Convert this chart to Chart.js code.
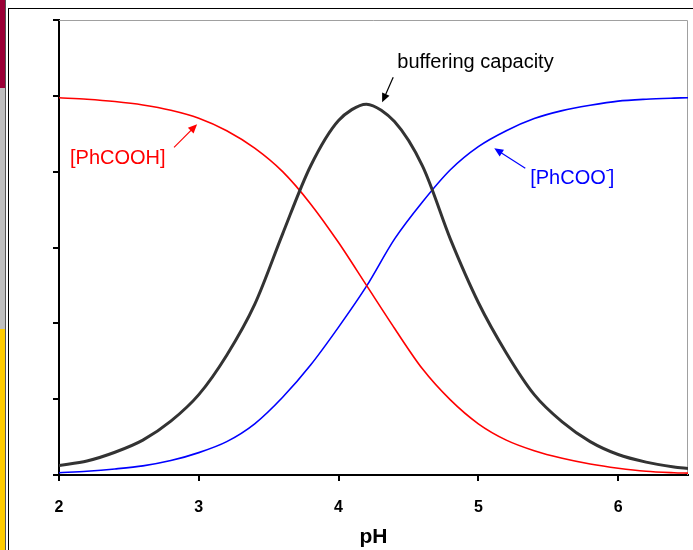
<!DOCTYPE html>
<html>
<head>
<meta charset="utf-8">
<title>Benzoic acid buffer</title>
<script src="https://cdn.jsdelivr.net/npm/chart.js@4.4.1/dist/chart.umd.min.js"></script>
<style>
  html, body { margin: 0; padding: 0; background: #fff; }
  #wrap { position: relative; width: 693px; height: 550px; overflow: hidden; }
  #wrap canvas { position: absolute; left: 0; top: 0; }
  .strip { position: absolute; left: 0; width: 5px; }
  .rule { position: absolute; }
</style>
</head>
<body>
<div id="wrap">
  <div class="strip" style="top:0;height:88px;background:#9b0036"></div>
  <div class="strip" style="top:88px;height:241px;background:#c0c0c0"></div>
  <div class="strip" style="top:329px;height:221px;background:#ffcc00"></div>
  <div class="rule" style="left:5px;top:0;width:1px;height:550px;background:#555"></div>
  <div class="rule" style="left:8px;top:8px;width:1px;height:542px;background:#000"></div>
  <div class="rule" style="left:8px;top:8px;width:685px;height:1px;background:#000"></div>
  <canvas id="chart" width="693" height="550"></canvas>
</div>
<script>
// pH grid and the three curves
const phValues = [2.0, 2.2, 2.4, 2.6, 2.8, 3.0, 3.2, 3.4, 3.6, 3.8, 4.0, 4.2,
                  4.4, 4.6, 4.8, 5.0, 5.2, 5.4, 5.6, 5.8, 6.0, 6.2, 6.4, 6.5];
const acidValues = [0.995, 0.991, 0.985, 0.976, 0.962, 0.941, 0.908, 0.862, 0.800, 0.715, 0.613, 0.500,
                    0.387, 0.280, 0.198, 0.135, 0.092, 0.064, 0.044, 0.029, 0.018, 0.010, 0.006, 0.005];
const baseValues = [0.006, 0.010, 0.016, 0.024, 0.038, 0.059, 0.088, 0.135, 0.205, 0.290, 0.390, 0.498,
                    0.622, 0.720, 0.805, 0.866, 0.908, 0.940, 0.961, 0.975, 0.986, 0.991, 0.994, 0.995];
const bufferValues = [0.025, 0.037, 0.060, 0.092, 0.142, 0.212, 0.316, 0.450, 0.636, 0.815, 0.935, 0.978,
                      0.932, 0.815, 0.622, 0.455, 0.322, 0.212, 0.140, 0.088, 0.054, 0.034, 0.021, 0.017];
const xTicks = [2, 3, 4, 5, 6];

const FONT = 'Arial, "Liberation Sans", sans-serif';

function toPoints(values) {
  return phValues.map((x, i) => ({ x, y: values[i] }));
}

function arrow(ctx, x1, y1, x2, y2, color) {
  const ang = Math.atan2(y2 - y1, x2 - x1);
  const len = 9, half = 4;
  ctx.strokeStyle = color;
  ctx.fillStyle = color;
  ctx.lineWidth = 1.2;
  ctx.beginPath();
  ctx.moveTo(x1, y1);
  ctx.lineTo(x2 - Math.cos(ang) * len * 0.8, y2 - Math.sin(ang) * len * 0.8);
  ctx.stroke();
  ctx.beginPath();
  ctx.moveTo(x2, y2);
  ctx.lineTo(x2 - Math.cos(ang) * len + Math.sin(ang) * half, y2 - Math.sin(ang) * len - Math.cos(ang) * half);
  ctx.lineTo(x2 - Math.cos(ang) * len - Math.sin(ang) * half, y2 - Math.sin(ang) * len + Math.cos(ang) * half);
  ctx.closePath();
  ctx.fill();
}

// plot frame (top/right) and the curve labels with their arrows
const notes = {
  id: 'notes',
  beforeDatasetsDraw(chart) {
    const { ctx, chartArea: a } = chart;
    ctx.save();
    ctx.strokeStyle = '#a0a0a0';
    ctx.lineWidth = 1;
    ctx.beginPath();
    ctx.moveTo(a.left, a.top + 0.5);
    ctx.lineTo(a.right - 0.5, a.top + 0.5);
    ctx.lineTo(a.right - 0.5, a.bottom);
    ctx.stroke();
    ctx.restore();
  },
  afterDatasetsDraw(chart) {
    const { ctx, scales: { x, y } } = chart;
    const px = v => x.getPixelForValue(v);
    const py = v => y.getPixelForValue(v);
    ctx.save();
    ctx.font = '20px ' + FONT;
    ctx.textBaseline = 'alphabetic';
    ctx.textAlign = 'left';

    ctx.fillStyle = '#000';
    ctx.fillText('buffering capacity', px(4.42), py(1.0726));
    arrow(ctx, px(4.391), py(1.0488), px(4.312), py(0.9828), '#000');

    ctx.fillStyle = '#ff0000';
    ctx.fillText('[PhCOOH]', px(2.079), py(0.8193));
    arrow(ctx, px(2.823), py(0.8641), px(2.988), py(0.9248), '#ff0000');

    ctx.fillStyle = '#0000ff';
    const bx = px(5.371), by = py(0.7675);
    ctx.fillText('[PhCOO', bx, by);
    const w1 = ctx.measureText('[PhCOO').width;
    ctx.font = '12px ' + FONT;
    ctx.fillText('-', bx + w1, by - 10);
    const w2 = ctx.measureText('-').width;
    ctx.font = '20px ' + FONT;
    ctx.fillText(']', bx + w1 + w2 - 1, by);
    arrow(ctx, px(5.336), py(0.8087), px(5.114), py(0.8615), '#0000ff');
    ctx.restore();
  }
};

new Chart(document.getElementById('chart'), {
  type: 'line',
  data: {
    datasets: [
      {
        label: 'buffering capacity',
        data: toPoints(bufferValues),
        borderColor: '#333333',
        borderWidth: 3,
        pointRadius: 0,
        tension: 0.3
      },
      {
        label: '[PhCOOH]',
        data: toPoints(acidValues),
        borderColor: '#ff0000',
        borderWidth: 1.6,
        pointRadius: 0,
        tension: 0.3
      },
      {
        label: '[PhCOO-]',
        data: toPoints(baseValues),
        borderColor: '#0000ff',
        borderWidth: 1.6,
        pointRadius: 0,
        tension: 0.3
      }
    ]
  },
  options: {
    responsive: false,
    animation: false,
    layout: { padding: { top: 20, right: 5, left: 0, bottom: 0 } },
    plugins: {
      legend: { display: false },
      tooltip: { enabled: false }
    },
    scales: {
      x: {
        type: 'linear',
        min: 2,
        max: 6.5,
        afterFit: axis => { axis.height = 75; },
        afterBuildTicks: axis => { axis.ticks = xTicks.map(v => ({ value: v })); },
        border: { color: '#000', width: 2 },
        grid: { drawOnChartArea: false, drawTicks: true, tickLength: 6, color: '#000', lineWidth: 2 },
        ticks: {
          padding: 17,
          color: '#000',
          font: { family: FONT, size: 16, weight: 'bold' }
        },
        title: {
          display: true,
          text: 'pH',
          color: '#000',
          padding: 0,
          font: { family: FONT, size: 21, weight: 'bold' }
        }
      },
      y: {
        min: 0,
        max: 1.2,
        afterFit: axis => { axis.width = 59; },
        border: { color: '#000', width: 2 },
        grid: { drawOnChartArea: false, drawTicks: true, tickLength: 6, color: '#000', lineWidth: 2 },
        ticks: { stepSize: 0.2, display: false }
      }
    }
  },
  plugins: [notes]
});
</script>
</body>
</html>
